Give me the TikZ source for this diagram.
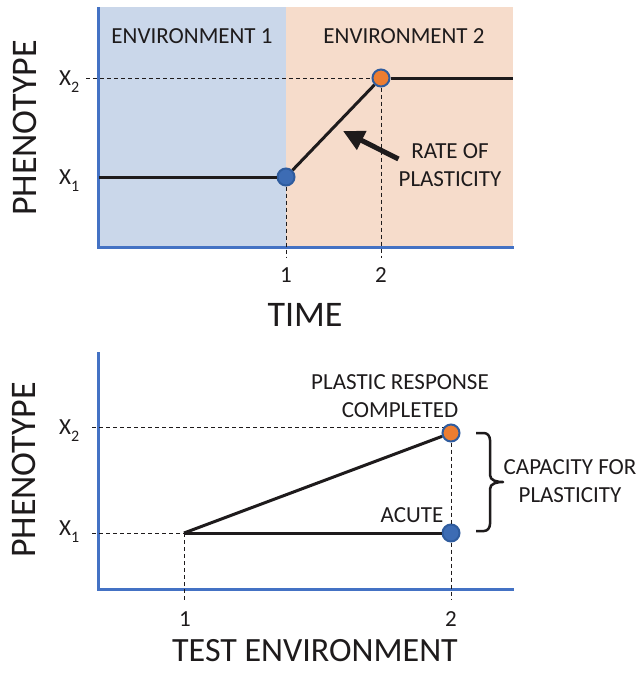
\documentclass[tikz,border=0pt]{standalone}
\usepackage{fontspec}
\setmainfont{Carlito}
\usetikzlibrary{arrows.meta}
\definecolor{envone}{HTML}{CAD7EA}
\definecolor{envtwo}{HTML}{F6DCCB}
\definecolor{axisblue}{HTML}{4472C4}
\definecolor{dotblue}{HTML}{3D6CB4}
\definecolor{dotedge}{HTML}{2F5C9E}
\definecolor{dotorange}{HTML}{ED7D31}
\definecolor{ink}{HTML}{1E1B1C}
\newcommand{\xsub}[1]{X\raisebox{-0.32em}{\fontsize{16}{16}\selectfont #1}}
\begin{document}
\begin{tikzpicture}[x=1pt, y=-1pt, text=ink,
    lbl/.style={font=\fontsize{23}{28}\selectfont, inner sep=0pt, align=center},
    title/.style={font=\fontsize{36}{40}\selectfont, inner sep=0pt},
    guide/.style={dash pattern=on 4pt off 3pt, line width=0.8pt, ink},
    trace/.style={line width=3pt, ink},
    axis/.style={line width=3pt, axisblue},
    dot/.style={circle, draw=dotedge, line width=2pt, minimum size=17pt, inner sep=0pt}]
  \useasboundingbox (0,0) rectangle (641,673);

  % top panel: phenotype over time
  \fill[envone] (98,7) rectangle (286,247);
  \fill[envtwo] (286,7) rectangle (513,247);
  \draw[axis] (98,7) -- (98,247) -- (514,247);
  \node[lbl] (env1) at (192,36) {ENVIRONMENT 1};
  \node[lbl] (env2) at (404,36) {ENVIRONMENT 2};
  \node[title, rotate=90] (ytop) at (25,128) {PHENOTYPE};
  \node[title] (time) at (305,315) {TIME};
  \node[lbl, anchor=base west] (tx1) at (59,184.5) {\xsub{1}};
  \node[lbl, anchor=base west] (tx2) at (59,85.5) {\xsub{2}};
  \node[lbl] (tt1) at (286,275) {1};
  \node[lbl] (tt2) at (381,275) {2};
  \coordinate (tstart) at (99,177);
  \coordinate (tend) at (513,78);
  \node[dot, fill=dotblue] (t1) at (286,177) {};
  \node[dot, fill=dotorange] (t2) at (381,78) {};
  \draw[guide] (86,78) -- (t2);
  \draw[guide] (t1) -- (286,258);
  \draw[guide] (t2) -- (381,258);
  \draw[trace] (tstart) -- (t1);
  \draw[trace] (t1) -- (t2);
  \draw[trace] (t2) -- (tend);
  \node[lbl] (rate) at (450,165) {RATE OF\\PLASTICITY};
  \coordinate (ratetip) at (343,131);
  \draw[line width=5pt, ink, -{Triangle[length=21pt, width=20pt]}] ([shift={(0,-6)}]rate.west) -- (ratetip);

  % bottom panel: phenotype over test environment
  \draw[axis] (98,352) -- (98,589) -- (514,589);
  \node[title, rotate=90] (ybot) at (24,470) {PHENOTYPE};
  \node[title, font=\fontsize{34}{40}\selectfont] (test) at (315,651) {TEST ENVIRONMENT};
  \node[lbl, anchor=base west] (bx1) at (59,535.5) {\xsub{1}};
  \node[lbl, anchor=base west] (bx2) at (59,434.5) {\xsub{2}};
  \node[lbl] (bt1) at (185,619) {1};
  \node[lbl] (bt2) at (451,619) {2};
  \coordinate (b0) at (184,533);
  \coordinate (bx2end) at (444,427);
  \draw[guide] (92,427) -- (bx2end);
  \draw[guide] (92,533) -- (b0);
  \draw[guide] (b0) -- (184,600);
  \node[dot, fill=dotorange] (b2) at (451,433) {};
  \node[dot, fill=dotblue] (b1) at (451,533) {};
  \draw[guide] (b2) -- (b1);
  \draw[guide] (b1) -- (451,600);
  \draw[trace] (b0) -- (b2);
  \draw[trace] (b0) -- (b1);
  \node[lbl] (done) at (400,396) {PLASTIC RESPONSE\\COMPLETED};
  \node[lbl] (acute) at (412,515) {ACUTE};
  % brace
  \draw[line width=2.5pt, ink, line join=round]
    (476,433) -- (484,433) to[out=0, in=90] (490,440) -- (490,475)
    to[out=-90, in=180] (503,482) to[out=180, in=90] (490,489) -- (490,524)
    to[out=-90, in=0] (484,531) -- (476,531);
  \node[lbl] (capacity) at (570,481) {CAPACITY FOR\\PLASTICITY};
\end{tikzpicture}
\end{document}
